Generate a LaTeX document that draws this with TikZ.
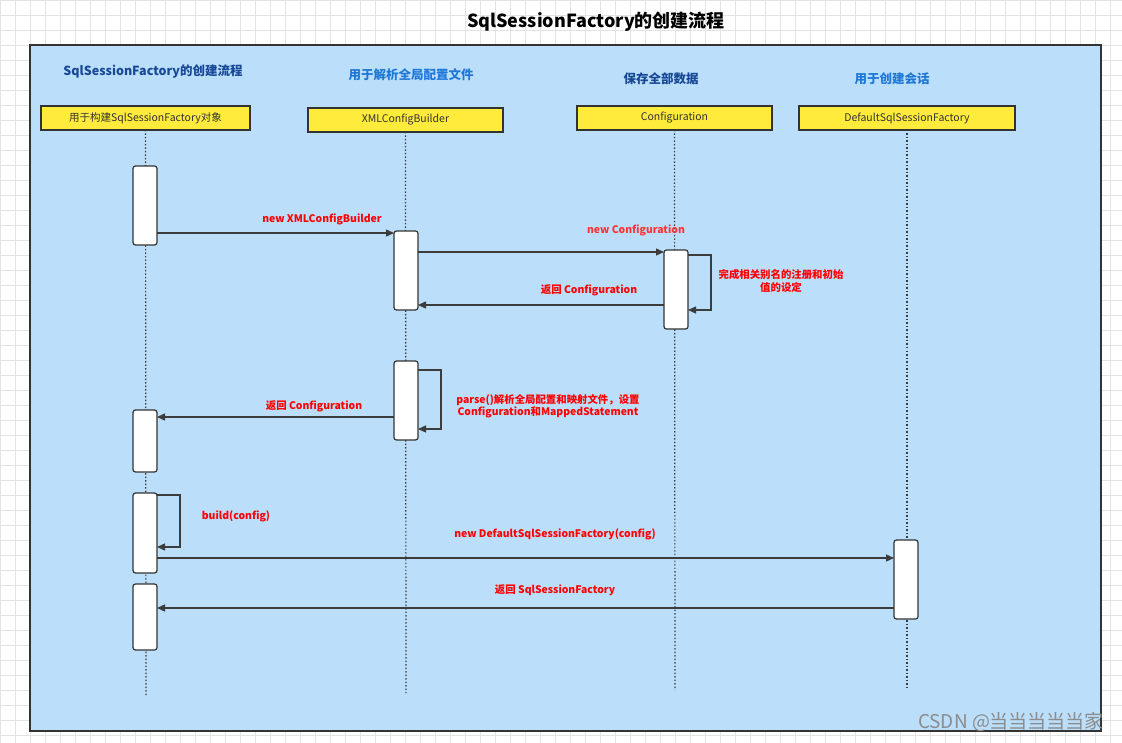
\documentclass[tikz,border=0pt]{standalone}
\usepackage{fontspec}
\setmainfont{Noto Sans CJK SC}
\usetikzlibrary{arrows.meta}
\definecolor{bgblue}{RGB}{187,222,250}
\definecolor{frameg}{RGB}{51,51,51}
\definecolor{boxy}{RGB}{255,235,59}
\definecolor{darkblue}{RGB}{22,72,150}
\definecolor{lightblue}{RGB}{30,120,215}
\definecolor{linec}{RGB}{60,60,60}
\tikzset{
  every node/.style={inner sep=0pt, outer sep=0pt},
  hdr/.style={font=\fontsize{12.5}{14}\selectfont\bfseries},
  objbox/.style={draw=frameg, line width=1.4pt, fill=boxy, minimum height=24pt, font=\fontsize{10.5}{12}\selectfont, text=black!80},
  life/.style={draw=linec, line width=1.2pt, dash pattern=on 1.5pt off 2pt},
  act/.style={draw=frameg, line width=1.2pt, fill=white, rounded corners=2.5pt, minimum width=24pt},
  msg/.style={draw=linec, line width=1.3pt, -{Triangle[length=8pt,width=7pt]}},
  lbl/.style={font=\fontsize{10.4}{12.5}\selectfont\bfseries, text=red, align=center},
  gridline/.style={draw=black!11, line width=0.7pt},
}
\begin{document}
\begin{tikzpicture}[x=1pt,y=-1pt]
\useasboundingbox (0,0) rectangle (1122,743);
\fill[white] (0,0) rectangle (1122,743);
\foreach \gx in {0,15,...,1125} {\draw[gridline] (\gx,0) -- (\gx,743);}
\foreach \gy in {0,15,...,750} {\draw[gridline] (0,\gy) -- (1122,\gy);}
% title
\node[font=\fontsize{18}{21}\selectfont\bfseries] (title) at (596,22) {SqlSessionFactory的创建流程};
% frame
\draw[fill=bgblue, draw=frameg, line width=1.5pt] (30,45) rectangle (1101,731);
% headers
\node[hdr, text=darkblue] (h1) at (153,72) {SqlSessionFactory的创建流程};
\node[hdr, text=lightblue] (h2) at (411,75) {用于解析全局配置文件};
\node[hdr, text=darkblue] (h3) at (661,79) {保存全部数据};
\node[hdr, text=lightblue] (h4) at (892,79) {用于创建会话};
% object boxes
\node[objbox, minimum width=209pt] (o1) at (145.5,118) {用于构建SqlSessionFactory对象};
\node[objbox, minimum width=195pt] (o2) at (405.5,120) {XMLConfigBuilder};
\node[objbox, minimum width=195pt] (o3) at (674.5,118) {Configuration};
\node[objbox, minimum width=216pt] (o4) at (907,118) {DefaultSqlSessionFactory};
% lifeline ends
\coordinate (e1) at (146,695);
\coordinate (e2) at (406,693);
\coordinate (e3) at (675,690);
\coordinate (e4) at (907,690);
\draw[life] (o1.south) -- (e1);
\draw[life] (o2.south) -- (e2);
\draw[life] (o3.south) -- (e3);
\draw[life] (o4.south) -- (e4);
% activations
\node[act, minimum height=79pt] (a1) at (145,205.5) {};
\node[act, minimum height=79pt] (a2) at (406,270.5) {};
\node[act, minimum height=79pt] (a3) at (676,289.5) {};
\node[act, minimum height=79pt] (a4) at (406,400.5) {};
\node[act, minimum height=62pt] (a5) at (145,441) {};
\node[act, minimum height=80pt] (a6) at (145,533) {};
\node[act, minimum height=79pt] (a7) at (906,579.5) {};
\node[act, minimum height=66pt] (a8) at (145,617) {};
% messages
\draw[msg] (a1.east |- 0,233) -- (a2.west |- 0,233);
\node[lbl] (l1) at (322,219) {new XMLConfigBuilder};
\draw[msg] (a2.east |- 0,252) -- (a3.west |- 0,252);
\node[lbl, text=red!80] (l2) at (636,230) {new Configuration};
\draw[msg] (a3.east |- 0,255) -- ++(23,0) |- (a3.east |- 0,310);
\node[lbl] (l3) at (781,281) {完成相关别名的注册和初始\\值的设定};
\draw[msg] (a3.west |- 0,305) -- (a2.east |- 0,305);
\node[lbl] (l4) at (589,290) {返回 Configuration};
\draw[msg] (a4.east |- 0,370) -- ++(23,0) |- (a4.east |- 0,429);
\node[lbl] (l5) at (548,406) {parse()解析全局配置和映射文件，设置\\Configuration和MappedStatement};
\draw[msg] (a4.west |- 0,417) -- (a5.east |- 0,417);
\node[lbl] (l6) at (314,406) {返回 Configuration};
\draw[msg] (a6.east |- 0,495) -- ++(23,0) |- (a6.east |- 0,547);
\node[lbl] (l7) at (236,516) {build(config)};
\draw[msg] (a6.east |- 0,558) -- (a7.west |- 0,558);
\node[lbl] (l8) at (555,534) {new DefaultSqlSessionFactory(config)};
\draw[msg] (a7.west |- 0,608) -- (a8.east |- 0,608);
\node[lbl] (l9) at (555,590) {返回 SqlSessionFactory};
% watermark
\node[font=\fontsize{19}{21}\selectfont, text=black!45] (wm) at (1011,722) {CSDN @当当当当当家};
\end{tikzpicture}
\end{document}
